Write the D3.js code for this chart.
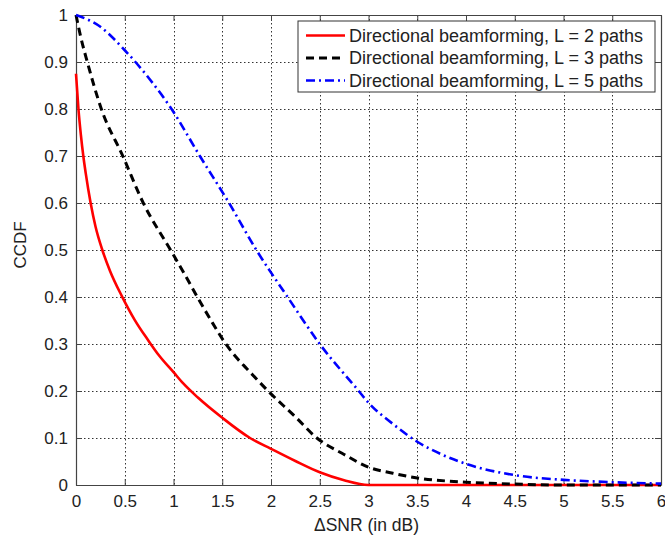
<!DOCTYPE html>
<html>
<head>
<meta charset="utf-8">
<script src="https://cdnjs.cloudflare.com/ajax/libs/d3/7.8.5/d3.min.js"></script>
<style>
  body { margin: 0; background: #fff; }
  svg { display: block; font-family: "Liberation Sans", Arial, Helvetica, sans-serif; }
</style>
</head>
<body>
<div id="chart"></div>
<script>
// CCDF of the SNR gap
const l2X = [0, 0.025, 0.05, 0.075, 0.1, 0.15, 0.2, 0.27, 0.35, 0.47, 0.6, 0.74, 0.85, 1.0, 1.1, 1.25, 1.5, 1.785, 2.0, 2.25, 2.5, 2.75, 3.0, 4.0, 5.0, 6.0];
const l2Y = [0.875, 0.8, 0.745, 0.7, 0.663, 0.6, 0.55, 0.5, 0.455, 0.402, 0.352, 0.308, 0.276, 0.24, 0.216, 0.186, 0.143, 0.1, 0.077, 0.051, 0.027, 0.01, 0.0, 0.0, 0.0, 0.0];

const l3X = [0, 0.05, 0.116, 0.26, 0.48, 0.69, 0.97, 1.11, 1.25, 1.4, 1.52, 1.65, 1.75, 1.97, 2.25, 2.47, 2.75, 3.0, 3.25, 3.5, 4.0, 4.5, 5.0, 6.0];
const l3Y = [1.0, 0.952, 0.9, 0.8, 0.7, 0.6, 0.5, 0.45, 0.398, 0.345, 0.305, 0.27, 0.248, 0.2, 0.145, 0.1, 0.065, 0.038, 0.025, 0.015, 0.006, 0.002, 0.0, 0.0];

const l5X = [0, 0.25, 0.5, 0.75, 0.98, 1.27, 1.57, 1.85, 2.17, 2.5, 2.9, 3.0, 3.25, 3.5, 3.75, 4.0, 4.5, 5.0, 5.5, 6.0];
const l5Y = [1.0, 0.975, 0.925, 0.865, 0.8, 0.7, 0.6, 0.5, 0.4, 0.3, 0.2, 0.175, 0.13, 0.092, 0.065, 0.045, 0.021, 0.011, 0.006, 0.003];

const seriesNames = [
  "Directional beamforming, L = 2 paths",
  "Directional beamforming, L = 3 paths",
  "Directional beamforming, L = 5 paths"
];
const xTicks = [0, 0.5, 1, 1.5, 2, 2.5, 3, 3.5, 4, 4.5, 5, 5.5, 6];
const yTicks = [0, 0.1, 0.2, 0.3, 0.4, 0.5, 0.6, 0.7, 0.8, 0.9, 1];

const width = 665, height = 538;
const margin = { top: 15, right: 4, bottom: 53, left: 76 };
const innerW = width - margin.left - margin.right;
const innerH = height - margin.top - margin.bottom;

const x = d3.scaleLinear().domain([0, 6]).range([0, innerW]);
const y = d3.scaleLinear().domain([0, 1]).range([innerH, 0]);

const svg = d3.select("#chart").append("svg")
    .attr("width", width)
    .attr("height", height);

const g = svg.append("g")
    .attr("transform", `translate(${margin.left},${margin.top})`);

// dotted grid, snapped to pixel centres so the dots stay crisp
const crisp = v => Math.round(v) + 0.5;
const gridX = g.append("g").attr("class", "grid-x");
xTicks.slice(1, -1).forEach(d => {
  gridX.append("path")
    .attr("d", `M${crisp(x(d))},0V${innerH}`)
    .attr("fill", "none")
    .attr("stroke", "#333")
    .attr("stroke-width", 1)
    .attr("stroke-dasharray", "1.5,2.5");
});
const gridY = g.append("g").attr("class", "grid-y");
yTicks.slice(1, -1).forEach(d => {
  gridY.append("path")
    .attr("d", `M0,${crisp(y(d))}H${innerW}`)
    .attr("fill", "none")
    .attr("stroke", "#333")
    .attr("stroke-width", 1)
    .attr("stroke-dasharray", "1.5,2.5");
});

// axes with inward ticks, matlab style box
const tickLen = 6;
const fmt = d => d3.format("")(d);
const xAxisB = g.append("g").attr("transform", `translate(0,${innerH})`)
    .call(d3.axisBottom(x).tickValues(xTicks).tickSizeInner(-tickLen).tickSizeOuter(0).tickPadding(10).tickFormat(fmt));
const xAxisT = g.append("g")
    .call(d3.axisTop(x).tickValues(xTicks).tickSizeInner(-tickLen).tickSizeOuter(0).tickFormat(""));
const yAxisL = g.append("g")
    .call(d3.axisLeft(y).tickValues(yTicks).tickSizeInner(-tickLen).tickSizeOuter(0).tickPadding(8).tickFormat(fmt));
const yAxisR = g.append("g").attr("transform", `translate(${innerW},0)`)
    .call(d3.axisRight(y).tickValues(yTicks).tickSizeInner(-tickLen).tickSizeOuter(0).tickFormat(""));

[xAxisB, xAxisT, yAxisL, yAxisR].forEach(a => {
  a.select(".domain").attr("stroke", "#444").attr("stroke-width", 1.2);
  a.selectAll(".tick line").attr("stroke", "#444").attr("stroke-width", 1);
  a.selectAll(".tick text").attr("fill", "#222").style("font-size", "17px");
});

// curves
const series = [
  { xs: l2X, ys: l2Y, color: "#ff0000", dash: null, w: 2.6 },
  { xs: l3X, ys: l3Y, color: "#000000", dash: "8,5", w: 3 },
  { xs: l5X, ys: l5Y, color: "#0000ff", dash: "9,4,2,4", w: 2.6 }
];

const line = d3.line()
    .x(d => x(d[0]))
    .y(d => y(d[1]))
    .curve(d3.curveMonotoneX);

series.forEach(s => {
  g.append("path")
    .datum(d3.zip(s.xs, s.ys))
    .attr("fill", "none")
    .attr("stroke", s.color)
    .attr("stroke-width", s.w)
    .attr("stroke-dasharray", s.dash)
    .attr("d", line);
});

// legend
const legX = 298 - margin.left, legY = 21 - margin.top;
const legW = 357, legH = 71;
const leg = g.append("g").attr("transform", `translate(${legX},${legY})`);
leg.append("rect")
    .attr("width", legW).attr("height", legH)
    .attr("fill", "#fff").attr("stroke", "#333").attr("stroke-width", 1);
series.forEach((s, i) => {
  const cy = 14.5 + i * 22.5;
  leg.append("line")
    .attr("x1", 8).attr("x2", 47)
    .attr("y1", cy).attr("y2", cy)
    .attr("stroke", s.color)
    .attr("stroke-width", s.w)
    .attr("stroke-dasharray", s.dash);
  leg.append("text")
    .attr("x", 51).attr("y", cy)
    .attr("dy", "0.35em")
    .attr("fill", "#222")
    .style("font-size", "18px")
    .text(seriesNames[i]);
});

// axis titles
svg.append("text")
    .attr("x", margin.left + innerW / 2 - 2)
    .attr("y", 531)
    .attr("text-anchor", "middle")
    .attr("fill", "#222")
    .style("font-size", "17.5px")
    .text("ΔSNR (in dB)");

svg.append("text")
    .attr("transform", `translate(26,${margin.top + innerH / 2 - 5}) rotate(-90)`)
    .attr("text-anchor", "middle")
    .attr("fill", "#222")
    .style("font-size", "17px")
    .text("CCDF");
</script>
</body>
</html>
